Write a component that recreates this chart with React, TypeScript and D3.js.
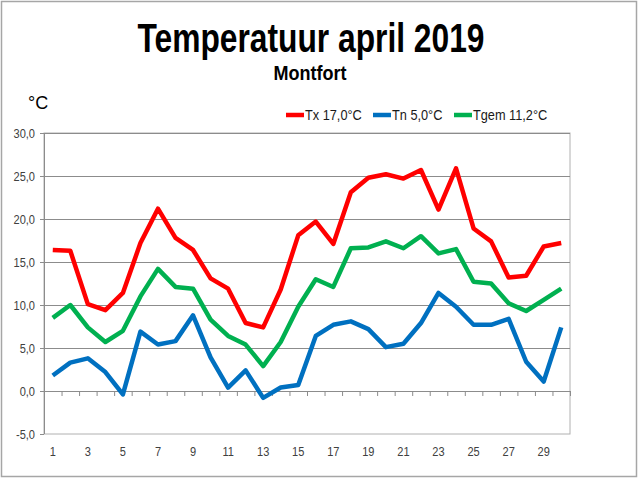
import * as d3 from "d3";

const days: number[] = d3.range(1, 31);
const tx: number[] = [
  16.4, 16.3, 10.1, 9.4, 11.4, 17.2, 21.2, 17.8, 16.4, 13.1,
  11.9, 7.9, 7.4, 11.8, 18.1, 19.7, 17.1, 23.1, 24.8, 25.2,
  24.7, 25.7, 21.1, 25.9, 18.9, 17.4, 13.2, 13.4, 16.8, 17.2,
];
const tn: number[] = [
  1.8, 3.3, 3.8, 2.2, -0.4, 6.9, 5.4, 5.8, 8.8, 3.9,
  0.4, 2.4, -0.8, 0.4, 0.7, 6.4, 7.7, 8.1, 7.2, 5.1,
  5.5, 7.9, 11.4, 9.8, 7.7, 7.7, 8.4, 3.4, 1.1, 7.4,
];
const tgem: number[] = [
  8.5, 10.0, 7.4, 5.7, 7.0, 11.0, 14.2, 12.1, 11.9, 8.3,
  6.4, 5.4, 2.9, 5.7, 9.8, 13.0, 12.1, 16.6, 16.7, 17.4,
  16.6, 18.0, 16.0, 16.5, 12.7, 12.5, 10.2, 9.3, 10.6, 11.9,
];
const yTicks: number[] = [-5, 0, 5, 10, 15, 20, 25, 30];
const seriesNames: string[] = ["Tx 17,0°C", "Tn 5,0°C", "Tgem 11,2°C"];
const seriesColors: string[] = ["#ff0000", "#0070c0", "#00b050"];

const narrow = "'Liberation Sans Narrow', 'Arial Narrow', 'Liberation Sans', Arial, sans-serif";
const squeeze = 0.85; // fake a condensed face, narrow font isn't installed

// text squeezed horizontally around its anchor point
function NarrowText({
  x,
  y,
  anchor = "start",
  size,
  fill,
  children,
}: {
  x: number;
  y: number;
  anchor?: string;
  size: number;
  fill: string;
  children: string | number;
}) {
  return (
    <text
      transform={`translate(${x},${y}) scale(${squeeze},1)`}
      textAnchor={anchor}
      fontFamily={narrow}
      fontSize={size}
      fill={fill}
    >
      {children}
    </text>
  );
}

export default function App() {
  const margin = { left: 44, right: 570, top: 133, bottom: 434 };

  const x = d3.scaleBand<number>().domain(days).range([margin.left, margin.right]);
  const cx = (d: number) => (x(d) ?? 0) + x.bandwidth() / 2;
  const y = d3.scaleLinear().domain([-5, 30]).range([margin.bottom, margin.top]);

  const line = d3
    .line<number>()
    .x((_, i) => cx(days[i]))
    .y((v) => y(v));

  const series = [tx, tn, tgem];
  const fmt = (v: number) => v.toFixed(1).replace(".", ",");
  const legendX = [286, 373, 454];

  return (
    <svg
      width={640}
      height={480}
      style={{ position: "absolute", left: 0, top: 0, background: "#fff" }}
    >
      <rect x={1.5} y={1.5} width={635} height={475} fill="#fff" stroke="#a6a6a6" strokeWidth={1.5} />

      <text
        x={311}
        y={52}
        textAnchor="middle"
        fontFamily={narrow}
        fontWeight="bold"
        fontSize={40}
        textLength={347}
        lengthAdjust="spacingAndGlyphs"
        fill="#000"
      >
        Temperatuur april 2019
      </text>
      <text
        x={310}
        y={80}
        textAnchor="middle"
        fontFamily={narrow}
        fontWeight="bold"
        fontSize={20}
        textLength={73}
        lengthAdjust="spacingAndGlyphs"
        fill="#000"
      >
        Montfort
      </text>
      <text x={28} y={109} fontFamily="'Liberation Sans', Arial, sans-serif" fontSize={18} fill="#000">
        °C
      </text>

      {/* legend */}
      {seriesNames.map((name, i) => (
        <g key={name}>
          <line
            x1={legendX[i]}
            x2={legendX[i] + 18}
            y1={115}
            y2={115}
            stroke={seriesColors[i]}
            strokeWidth={4.5}
          />
          <NarrowText x={legendX[i] + 19} y={120} size={15} fill="#1a1a1a">
            {name}
          </NarrowText>
        </g>
      ))}

      {/* plot frame and gridlines */}
      <rect
        x={margin.left}
        y={margin.top}
        width={margin.right - margin.left}
        height={margin.bottom - margin.top}
        fill="none"
        stroke="#b0b0b0"
        strokeWidth={1}
      />
      {yTicks
        .filter((t) => t !== -5 && t !== 0)
        .map((t) => (
          <line
            key={t}
            x1={margin.left}
            x2={margin.right}
            y1={y(t) + 0.5}
            y2={y(t) + 0.5}
            stroke="#8c8c8c"
            strokeWidth={1}
          />
        ))}

      {/* y axis */}
      <line x1={margin.left + 0.5} x2={margin.left + 0.5} y1={margin.top} y2={margin.bottom} stroke="#8c8c8c" />
      {yTicks.map((t) => (
        <g key={t}>
          <line x1={margin.left - 4} x2={margin.left} y1={y(t) + 0.5} y2={y(t) + 0.5} stroke="#8c8c8c" />
          <NarrowText x={margin.left - 9} y={y(t) + 4.5} anchor="end" size={13} fill="#404040">
            {fmt(t)}
          </NarrowText>
        </g>
      ))}

      {/* x axis at zero */}
      <line x1={margin.left} x2={margin.right} y1={y(0) + 0.5} y2={y(0) + 0.5} stroke="#8c8c8c" />
      {days.map((d) => (
        <line
          key={d}
          x1={(x(d) ?? 0) + x.bandwidth() + 0.5}
          x2={(x(d) ?? 0) + x.bandwidth() + 0.5}
          y1={y(0)}
          y2={y(0) + 5}
          stroke="#8c8c8c"
        />
      ))}
      {days
        .filter((d) => d % 2 === 1)
        .map((d) => (
          <NarrowText key={d} x={cx(d)} y={456} anchor="middle" size={13} fill="#404040">
            {d}
          </NarrowText>
        ))}

      {/* series */}
      {series.map((s, i) => (
        <path
          key={seriesNames[i]}
          d={line(s) ?? ""}
          fill="none"
          stroke={seriesColors[i]}
          strokeWidth={4.5}
          strokeLinejoin="round"
        />
      ))}
    </svg>
  );
}
